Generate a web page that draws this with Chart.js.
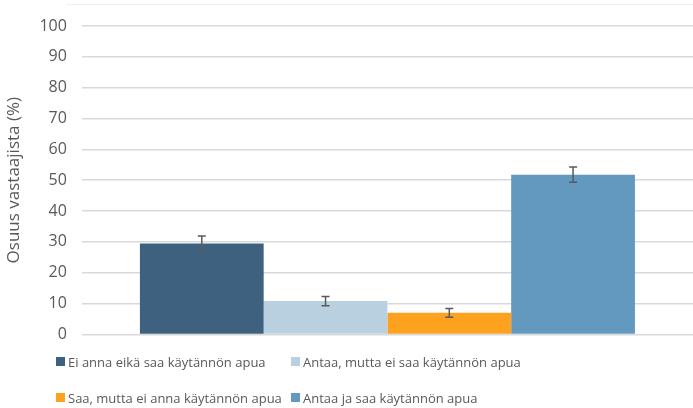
<!DOCTYPE html>
<html>
<head>
<meta charset="utf-8">
<script src="https://cdn.jsdelivr.net/npm/chart.js@4/dist/chart.umd.min.js"></script>
<style>
  body { margin: 0; background: #fff; font-family: "Open Sans", sans-serif; }
  #wrap { position: relative; width: 693px; height: 408px; }
  #frame { position: absolute; left: 66px; top: 4px; right: 0; border-top: 1px solid #efefef; }
  #chartBox { position: absolute; left: 0; top: 0; width: 693px; height: 359px; }
  #legend { position: absolute; left: 56px; top: 352px; display: grid;
            grid-template-columns: 235px 320px; row-gap: 17px; }
  .item { display: flex; align-items: center; font-size: 13px; color: #595959; height: 19px; white-space: nowrap; }
  .box { flex: 0 0 9px; width: 9px; height: 9px; margin-right: 3px; }
</style>
</head>
<body>
<div id="wrap">
  <div id="frame"></div>
  <div id="chartBox"><canvas id="chart"></canvas></div>
  <div id="legend"></div>
</div>
<script>
const groups = ['Vastaajat'];
const seriesNames = [
    'Ei anna eikä saa käytännön apua',
    'Antaa, mutta ei saa käytännön apua',
    'Saa, mutta ei anna käytännön apua',
    'Antaa ja saa käytännön apua'
];
const shares = [29.5, 10.8, 7.0, 51.8];
const errors = [2.4, 1.5, 1.4, 2.5];
const colors = ['#3F6180', '#B8D0E0', '#FDA21F', '#6399BF'];
const yTicks = [0, 10, 20, 30, 40, 50, 60, 70, 80, 90, 100];

// error bars drawn on top of each bar using the y scale
const errorBars = {
    id: 'errorBars',
    afterDatasetsDraw(chart) {
        const ctx = chart.ctx;
        const y = chart.scales.y;
        ctx.save();
        ctx.strokeStyle = '#5a5a5a';
        ctx.lineWidth = 1.5;
        chart.data.datasets.forEach((ds, i) => {
            const bar = chart.getDatasetMeta(i).data[0];
            const top = y.getPixelForValue(ds.data[0] + errors[i]);
            const bottom = y.getPixelForValue(ds.data[0] - errors[i]);
            ctx.beginPath();
            ctx.moveTo(bar.x, top);
            ctx.lineTo(bar.x, bottom);
            ctx.moveTo(bar.x - 4, top);
            ctx.lineTo(bar.x + 4, top);
            ctx.moveTo(bar.x - 4, bottom);
            ctx.lineTo(bar.x + 4, bottom);
            ctx.stroke();
        });
        ctx.restore();
    }
};

new Chart(document.getElementById('chart'), {
    type: 'bar',
    data: {
        labels: groups,
        datasets: seriesNames.map((name, i) => ({
            label: name,
            data: [shares[i]],
            backgroundColor: colors[i],
            borderWidth: 0
        }))
    },
    options: {
        responsive: true,
        maintainAspectRatio: false,
        animation: false,
        layout: { padding: { top: 26, right: 0, bottom: 11, left: 0 } },
        datasets: { bar: { categoryPercentage: 0.81, barPercentage: 1 } },
        plugins: { legend: { display: false }, tooltip: { enabled: false } },
        scales: {
            x: { display: false },
            y: {
                min: 0,
                max: 100,
                afterBuildTicks: axis => { axis.ticks = yTicks.map(v => ({ value: v })); },
                ticks: { color: '#595959', font: { family: 'Open Sans', size: 16 }, padding: 15 },
                grid: { color: '#d9d9d9', lineWidth: 1.5, drawTicks: false },
                border: { display: false },
                title: {
                    display: true,
                    text: 'Osuus vastaajista (%)',
                    color: '#595959',
                    font: { family: 'Open Sans', size: 17 },
                    padding: { top: 4, bottom: 0 }
                }
            }
        }
    },
    plugins: [errorBars]
});

const legend = document.getElementById('legend');
seriesNames.forEach((name, i) => {
    const item = document.createElement('div');
    item.className = 'item';
    item.innerHTML = '<span class="box" style="background:' + colors[i] + '"></span>' + name;
    legend.appendChild(item);
});
</script>
</body>
</html>
